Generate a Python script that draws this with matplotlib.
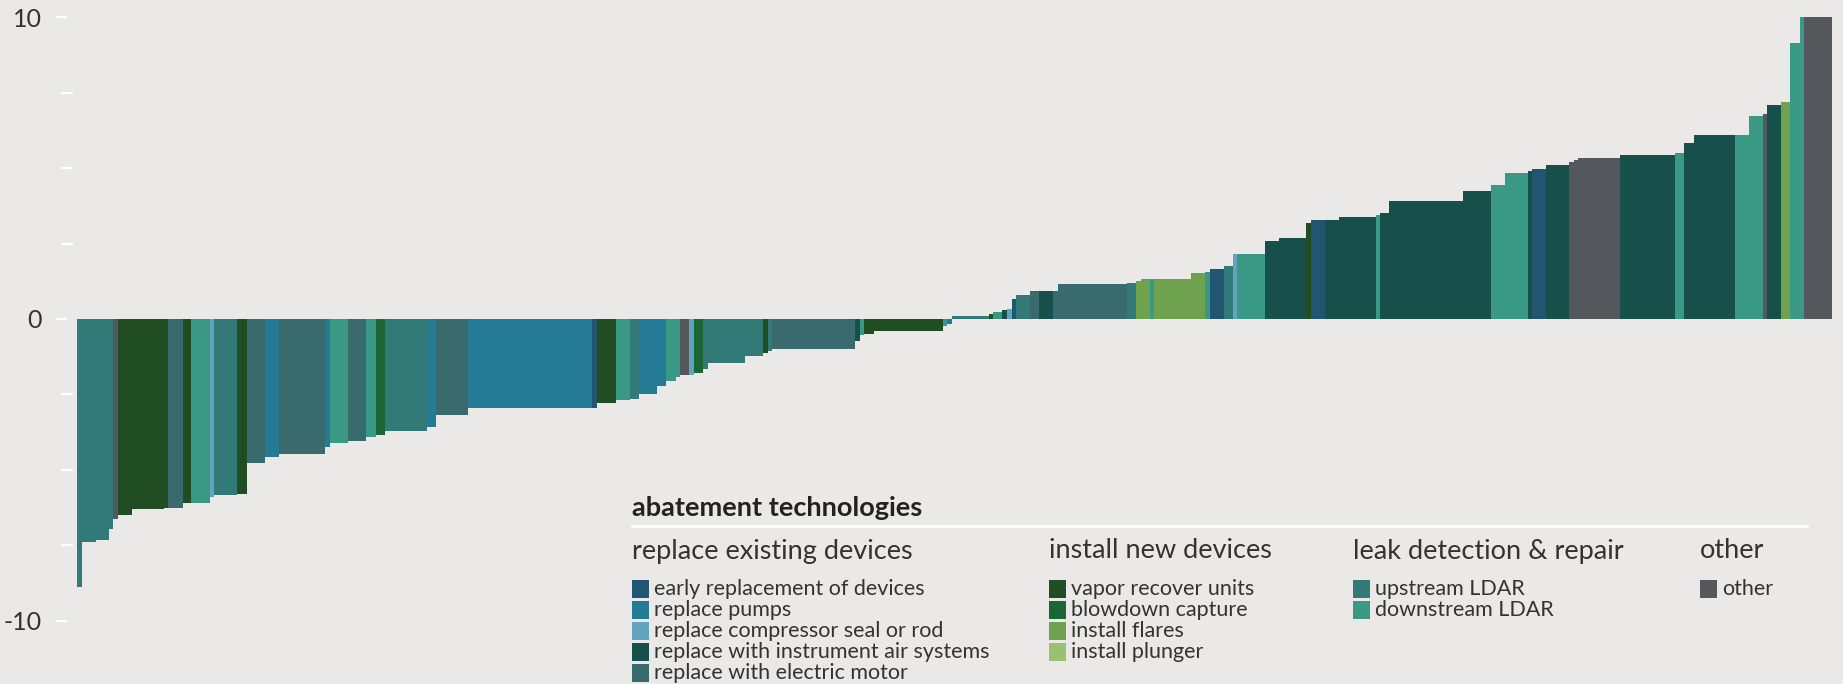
import matplotlib.pyplot as plt
import numpy as np

# abatement measures, sorted by cost (widths = abatement potential, values = cost)
start_x = 77
widths = [5, 14, 13, 4, 5, 14, 32, 4, 15, 8, 19, 4, 23, 10, 18, 14, 46, 5, 18, 18,
          10, 9, 42, 9, 32, 124, 5, 19, 14, 9, 18, 9, 10, 4, 9, 5, 9, 5, 37, 18,
          5, 4, 83, 5, 4, 10, 69, 4, 5, 37, 4, 9, 5, 5, 4, 14, 9, 14, 5, 69,
          9, 5, 9, 4, 37, 14, 5, 14, 9, 4, 28, 14, 27, 5, 14, 14, 37, 4, 9, 74,
          28, 14, 23, 4, 14, 23, 5, 4, 42, 55, 9, 10, 41, 14, 14, 4, 14, 9, 10, 4, 28]
costs = [-8.90, -7.41, -7.34, -6.98, -6.64, -6.51, -6.31, -6.28, -6.28, -6.11,
         -6.11, -5.91, -5.85, -5.81, -4.78, -4.58, -4.48, -4.25, -4.12, -4.05,
         -3.92, -3.85, -3.72, -3.59, -3.19, -2.96, -2.96, -2.79, -2.69, -2.66,
         -2.49, -2.23, -2.06, -1.93, -1.86, -1.86, -1.79, -1.66, -1.46, -1.23,
         -1.13, -1.06, -0.99, -0.73, -0.53, -0.50, -0.40, -0.23, -0.17, 0.10,
         0.17, 0.23, 0.30, 0.33, 0.66, 0.80, 0.93, 0.93, 0.93, 1.16,
         1.20, 1.26, 1.33, 1.33, 1.33, 1.53, 1.56, 1.66, 1.76, 2.16,
         2.16, 2.59, 2.69, 3.19, 3.29, 3.29, 3.39, 3.46, 3.52, 3.92,
         4.25, 4.45, 4.85, 4.92, 4.98, 5.12, 5.22, 5.28, 5.35, 5.45,
         5.51, 5.85, 6.11, 6.11, 6.74, 6.81, 7.11, 7.21, 9.17, 10.0, 10.0]
techs = ['up', 'up', 'up', 'up', 'other', 'vapor', 'vapor', 'vapor', 'motor', 'vapor',
         'down', 'seal', 'up', 'vapor', 'motor', 'pumps', 'motor', 'pumps', 'down', 'motor',
         'down', 'blow', 'up', 'pumps', 'motor', 'pumps', 'early', 'vapor', 'down', 'up',
         'pumps', 'pumps', 'down', 'down', 'other', 'seal', 'blow', 'up', 'up', 'up',
         'vapor', 'up', 'motor', 'air', 'down', 'vapor', 'vapor', 'down', 'pumps', 'up',
         'vapor', 'down', 'air', 'seal', 'early', 'up', 'motor', 'air', 'motor', 'motor',
         'up', 'flares', 'flares', 'down', 'flares', 'flares', 'down', 'early', 'up', 'seal',
         'down', 'air', 'air', 'vapor', 'early', 'air', 'air', 'down', 'air', 'air',
         'air', 'down', 'down', 'air', 'early', 'air', 'other', 'other', 'other', 'air',
         'down', 'air', 'air', 'down', 'down', 'other', 'air', 'flares', 'down', 'down', 'other']

colors = {
    'early': '#215672', 'pumps': '#257a96', 'seal': '#62a4c0', 'air': '#17504b',
    'motor': '#386a6e', 'vapor': '#204e22', 'blow': '#1b6636', 'flares': '#6fa24f',
    'plunger': '#9ac170', 'up': '#327a78', 'down': '#399985', 'other': '#54575c',
}

groups = [
    ('replace existing devices', [('early', 'early replacement of devices'),
                                  ('pumps', 'replace pumps'),
                                  ('seal', 'replace compressor seal or rod'),
                                  ('air', 'replace with instrument air systems'),
                                  ('motor', 'replace with electric motor')]),
    ('install new devices', [('vapor', 'vapor recover units'),
                             ('blow', 'blowdown capture'),
                             ('flares', 'install flares'),
                             ('plunger', 'install plunger')]),
    ('leak detection & repair', [('up', 'upstream LDAR'),
                                 ('down', 'downstream LDAR')]),
    ('other', [('other', 'other')]),
]
group_x = [632, 1049, 1353, 1700]

W, H = 1843, 684
bg = '#eae9e7'
txt = '#333333'
plt.rcParams['font.family'] = ['Lato', 'DejaVu Sans']

fig = plt.figure(figsize=(W / 100, H / 100), dpi=100, facecolor=bg)
ax = fig.add_axes([0, 0, 1, 1], facecolor=bg)

lefts = start_x + np.concatenate([[0], np.cumsum(widths)[:-1]])
ax.bar(lefts, costs, width=widths, align='edge',
       color=[colors[t] for t in techs], linewidth=0)

# 1 unit = 30.15 px, zero line at 319 px from top
ax.set_xlim(0, W)
ax.set_ylim(-(H - 319) / 30.15, 319 / 30.15)

for s in ax.spines.values():
    s.set_visible(False)
ax.spines['left'].set_position(('data', 67))
ax.set_xticks([])
ax.set_yticks([-10, 0, 10])
ax.set_yticklabels(['-10', '0', '10'])
ax.set_yticks([-7.5, -5, -2.5, 2.5, 5, 7.5], minor=True)
ax.tick_params(axis='y', which='major', direction='out', length=8, width=1.5,
               color='white', labelcolor=txt, labelsize=18, pad=10)
ax.tick_params(axis='y', which='minor', direction='inout', length=8, width=1.5,
               color='white')


def fx(px):
    return px / W


def fy(py):
    return 1 - py / H


# legend block
fig.text(fx(632), fy(508), 'abatement technologies', fontsize=19.5, fontweight='bold',
         color='#222222', va='center', ha='left')
fig.add_artist(plt.Line2D([fx(632), fx(1807)], [fy(526), fy(526)],
                          color='white', lw=2, transform=fig.transFigure))
for (head, items), gx in zip(groups, group_x):
    fig.text(fx(gx), fy(551), head, fontsize=19.5,
             color=txt, va='center', ha='left')
    for i, (key, label) in enumerate(items):
        yc = 589 + i * 21
        fig.add_artist(plt.Rectangle((fx(gx), fy(yc + 9)), fx(17), 18 / H,
                                     color=colors[key], transform=fig.transFigure, lw=0))
        fig.text(fx(gx + 22), fy(yc), label, fontsize=15.5,
                 color=txt, va='center', ha='left')

fig.savefig('out.png', dpi=100, facecolor=bg)
